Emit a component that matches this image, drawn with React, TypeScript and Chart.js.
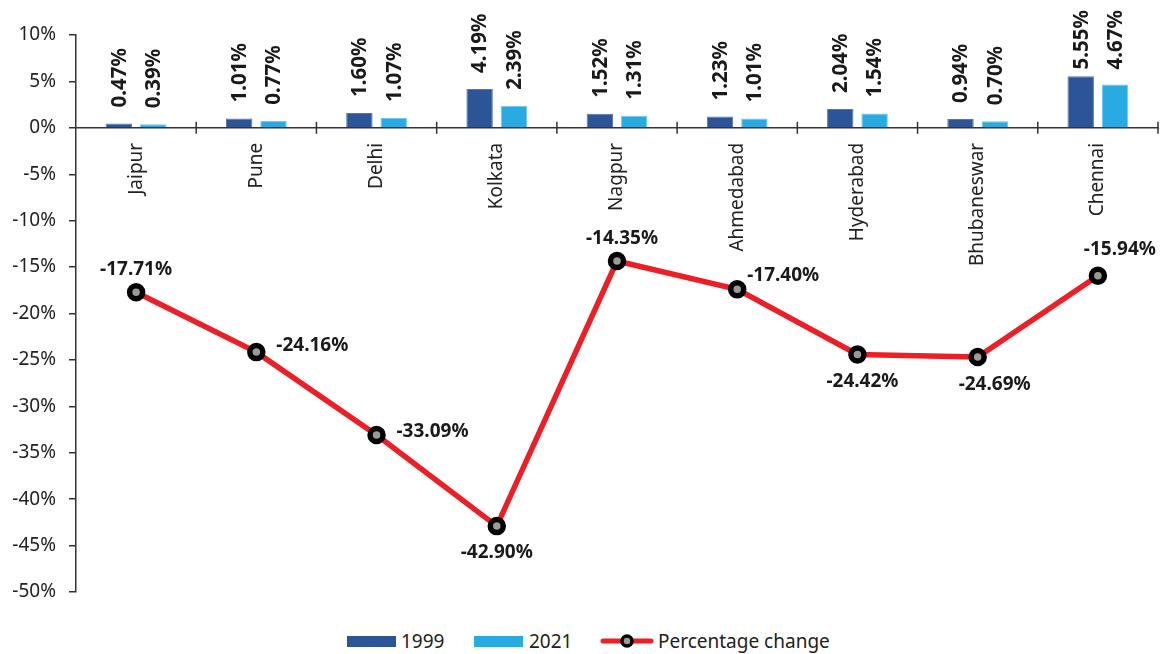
import React, { useEffect, useRef } from "react";
import { Chart, registerables } from "chart.js";

Chart.register(...registerables);

// City data: share in 1999 and 2021, and the percentage change between them
const cities = ["Jaipur", "Pune", "Delhi", "Kolkata", "Nagpur", "Ahmedabad", "Hyderabad", "Bhubaneswar", "Chennai"];
const share1999 = [0.47, 1.01, 1.6, 4.19, 1.52, 1.23, 2.04, 0.94, 5.55];
const share2021 = [0.39, 0.77, 1.07, 2.39, 1.31, 1.01, 1.54, 0.7, 4.67];
const percentageChange = [-17.71, -24.16, -33.09, -42.9, -14.35, -17.4, -24.42, -24.69, -15.94];

// Y axis range and step (percent)
const yMin = -50;
const yMax = 10;
const yStep = 5;

// Placement of each percentage-change label relative to its point (dx, dy in px)
const changeLabelOffsets: [number, number][] = [
  [0, -23], [56, -7], [56, -3], [0, 27], [5, -22], [46, -14], [5, 27], [17, 28], [22, -26],
];

const COLOR_1999 = "#2B5597";
const COLOR_2021 = "#29ABE2";
const COLOR_LINE = "#EC1F27";
const FONT = "'Noto Sans', 'Open Sans', sans-serif";
const TEXT = "#1a1a1a";

const fmt = (v: number) => v.toFixed(2) + "%";

// Short category separators crossing the zero line
const categoryTicks = {
  id: "categoryTicks",
  afterDraw(chart: any) {
    const xs = chart.scales.x;
    const ys = chart.scales.y;
    const y0 = ys.getPixelForValue(0);
    const ctx = chart.ctx;
    ctx.save();
    ctx.strokeStyle = "#333";
    ctx.lineWidth = 1.5;
    const n = cities.length;
    for (let i = 1; i <= n; i++) {
      const px = i < n ? (xs.getPixelForValue(i - 1) + xs.getPixelForValue(i)) / 2 : xs.right;
      ctx.beginPath();
      ctx.moveTo(px, y0 - 6);
      ctx.lineTo(px, y0 + 6);
      ctx.stroke();
    }
    ctx.restore();
  },
};

// Value labels: vertical above bars, horizontal around line points
const valueLabels = {
  id: "valueLabels",
  afterDatasetsDraw(chart: any) {
    const ctx = chart.ctx;
    ctx.save();
    ctx.fillStyle = TEXT;
    // bars: text reads upward from just above the bar, kept inside the canvas top
    ctx.font = `bold 20.5px ${FONT}`;
    [1, 2].forEach((di) => {
      const meta = chart.getDatasetMeta(di);
      const values = chart.data.datasets[di].data as number[];
      meta.data.forEach((bar: any, i: number) => {
        const text = fmt(values[i]);
        const w = ctx.measureText(text).width;
        const start = Math.max(bar.y - 16, 2 + w);
        ctx.save();
        ctx.translate(bar.x + 1, start);
        ctx.rotate(-Math.PI / 2);
        ctx.textAlign = "left";
        ctx.textBaseline = "middle";
        ctx.fillText(text, 0, 0);
        ctx.restore();
      });
    });
    // line points
    const lineMeta = chart.getDatasetMeta(0);
    const lineValues = chart.data.datasets[0].data as number[];
    ctx.font = `bold 19px ${FONT}`;
    ctx.textAlign = "center";
    ctx.textBaseline = "middle";
    lineMeta.data.forEach((pt: any, i: number) => {
      const [dx, dy] = changeLabelOffsets[i];
      ctx.fillText(fmt(lineValues[i]), pt.x + dx, pt.y + dy);
    });
    ctx.restore();
  },
};

export default function App() {
  const canvasRef = useRef<HTMLCanvasElement | null>(null);

  useEffect(() => {
    if (!canvasRef.current) return;
    const chart = new Chart(canvasRef.current, {
      type: "bar",
      data: {
        labels: cities,
        datasets: [
          {
            type: "line",
            label: "Percentage change",
            data: percentageChange,
            borderColor: COLOR_LINE,
            borderWidth: 5.5,
            pointRadius: 6.5,
            pointBorderWidth: 5.5,
            pointBorderColor: "#000",
            pointBackgroundColor: "#9a9a9a",
            tension: 0,
            order: 0,
          } as any,
          {
            label: "1999",
            data: share1999,
            backgroundColor: COLOR_1999,
            borderColor: "#5577B0",
            borderWidth: 1,
            categoryPercentage: 0.571,
            barPercentage: 0.77,
            order: 1,
          },
          {
            label: "2021",
            data: share2021,
            backgroundColor: COLOR_2021,
            borderColor: "#6CC8EE",
            borderWidth: 1,
            categoryPercentage: 0.571,
            barPercentage: 0.77,
            order: 1,
          },
        ],
      },
      options: {
        responsive: false,
        animation: false,
        devicePixelRatio: 1,
        layout: { autoPadding: false, padding: { left: 0, right: 2, top: 27, bottom: 28 } },
        plugins: { legend: { display: false }, tooltip: { enabled: false } },
        scales: {
          x: {
            position: { y: 0 } as any,
            offset: true,
            grid: { display: true, drawOnChartArea: false, drawTicks: false },
            border: { display: true, color: "#333", width: 1.5 },
            ticks: {
              autoSkip: false,
              maxRotation: 90,
              minRotation: 90,
              padding: 15,
              color: "#222",
              font: { family: FONT, size: 19 },
            },
            afterFit: (scale: any) => {
              scale.paddingLeft = 0;
              scale.paddingRight = 0;
              scale.paddingTop = 0;
              scale.paddingBottom = 0;
            },
          },
          y: {
            min: yMin,
            max: yMax,
            grid: { display: true, drawOnChartArea: false, drawTicks: true, tickLength: 7, color: "#333", lineWidth: 1.5 },
            border: { display: true, color: "#333", width: 1.5 },
            ticks: {
              stepSize: yStep,
              padding: 13,
              color: "#222",
              font: { family: FONT, size: 19 },
              callback: (v: any) => `${v}%`,
            },
            afterFit: (scale: any) => {
              scale.width = 68;
            },
          },
        },
      },
      plugins: [categoryTicks, valueLabels],
    });
    return () => chart.destroy();
  }, []);

  const legendText: React.CSSProperties = {
    position: "absolute",
    top: 622,
    height: 22,
    lineHeight: "22px",
    fontFamily: FONT,
    fontSize: 19,
    color: "#222",
    whiteSpace: "nowrap",
  };

  return (
    <div style={{ position: "relative", width: 1152, height: 646 }}>
      <canvas ref={canvasRef} width={1152} height={612} style={{ position: "absolute", left: 0, top: 0 }} />
      <div style={{ position: "absolute", left: 339, top: 628, width: 49, height: 11, background: COLOR_1999 }} />
      <div style={{ ...legendText, left: 393 }}>1999</div>
      <div style={{ position: "absolute", left: 466, top: 628, width: 49, height: 11, background: COLOR_2021 }} />
      <div style={{ ...legendText, left: 521 }}>2021</div>
      <svg style={{ position: "absolute", left: 592, top: 623 }} width={54} height={20}>
        <line x1={3} y1={10} x2={51} y2={10} stroke={COLOR_LINE} strokeWidth={5} strokeLinecap="round" />
        <circle cx={27} cy={10} r={5} fill="#9a9a9a" stroke="#000" strokeWidth={3.5} />
      </svg>
      <div style={{ ...legendText, left: 650 }}>Percentage change</div>
    </div>
  );
}
